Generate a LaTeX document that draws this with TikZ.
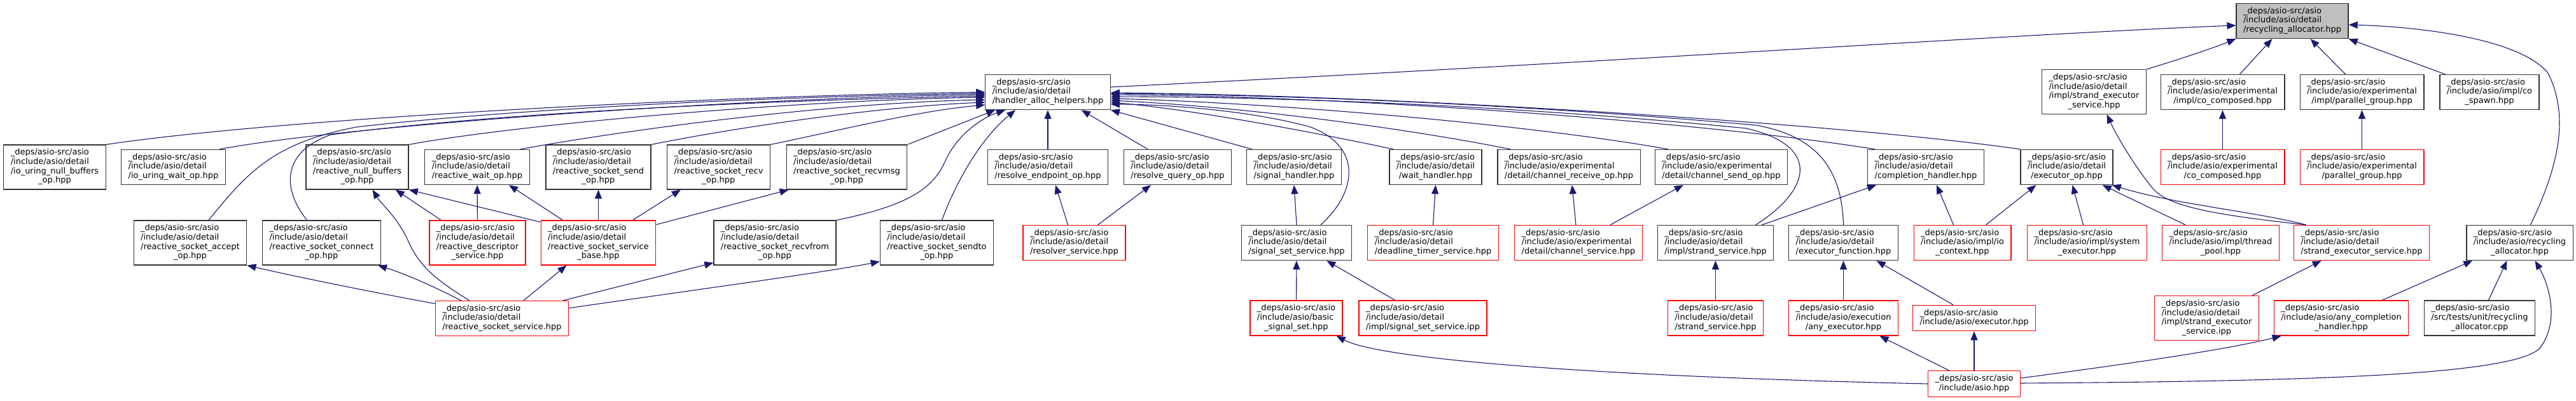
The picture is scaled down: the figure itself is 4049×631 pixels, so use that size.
\documentclass[tikz,border=0pt]{standalone}
\usepackage{fontspec}
\setmainfont{DejaVu Sans}
\usetikzlibrary{arrows.meta,calc}
\definecolor{edgeblue}{HTML}{191970}
\definecolor{boxgray}{HTML}{BFBFBF}
\definecolor{boxred}{HTML}{FF0000}
\definecolor{boxline}{HTML}{333333}
\newcommand{\lbl}[2]{\begin{tabular}{@{}l@{}}#1\\\multicolumn{1}{@{}c@{}}{#2}\end{tabular}}
\newcommand{\depsA}{\_deps/asio-src/asio}
\newcommand{\incdet}{/include/asio/detail}
\newcommand{\incexp}{/include/asio/experimental}
\begin{document}
\begin{tikzpicture}[x=1pt,y=-1pt,
  fnode/.style={rectangle,draw=boxline,fill=white,line width=1.3pt,inner xsep=11pt,inner ysep=5.5pt,font=\fontsize{13}{14.7}\selectfont,anchor=center},
  rnode/.style={fnode,draw=boxred},
  gnode/.style={fnode,fill=boxgray},
  dep/.style={draw=edgeblue,line width=1.1pt,-{Triangle[length=14pt,width=11pt]}}]
\useasboundingbox[fill=white] (0,0) rectangle (4049,631);
% row 0/1
\node[gnode] (root) at (3603,33) {\lbl{\depsA\\\incdet}{/recycling\_allocator.hpp}};
\node[fnode] (hah) at (1647,145) {\lbl{\depsA\\\incdet}{/handler\_alloc\_helpers.hpp}};
\node[fnode] (ises) at (3291.5,144.5) {\lbl{\depsA\\\incdet\\/impl/strand\_executor}{\_service.hpp}};
\node[fnode] (icoc) at (3493.5,145) {\lbl{\depsA\\\incexp}{/impl/co\_composed.hpp}};
\node[fnode] (ipg) at (3712.5,145) {\lbl{\depsA\\\incexp}{/impl/parallel\_group.hpp}};
\node[fnode] (icos) at (3913,145) {\lbl{\depsA\\/include/asio/impl/co}{\_spawn.hpp}};
% row 2
\node[fnode] (iunb) at (86,263) {\lbl{\depsA\\\incdet\\/io\_uring\_null\_buffers}{\_op.hpp}};
\node[fnode] (iuw) at (272.5,263) {\lbl{\depsA\\\incdet}{/io\_uring\_wait\_op.hpp}};
\node[fnode] (rnb) at (561.5,263) {\lbl{\depsA\\\incdet\\/reactive\_null\_buffers}{\_op.hpp}};
\node[fnode] (rwo) at (750,263) {\lbl{\depsA\\\incdet}{/reactive\_wait\_op.hpp}};
\node[fnode] (rsso) at (940.5,263) {\lbl{\depsA\\\incdet\\/reactive\_socket\_send}{\_op.hpp}};
\node[fnode] (rsro) at (1129.5,263) {\lbl{\depsA\\\incdet\\/reactive\_socket\_recv}{\_op.hpp}};
\node[fnode] (rsrm) at (1331,263) {\lbl{\depsA\\\incdet\\/reactive\_socket\_recvmsg}{\_op.hpp}};
\node[fnode] (reo) at (1647,263) {\lbl{\depsA\\\incdet}{/resolve\_endpoint\_op.hpp}};
\node[fnode] (rqo) at (1851,263) {\lbl{\depsA\\\incdet}{/resolve\_query\_op.hpp}};
\node[fnode] (sh) at (2034,263) {\lbl{\depsA\\\incdet}{/signal\_handler.hpp}};
\node[fnode] (wh) at (2256.5,263) {\lbl{\depsA\\\incdet}{/wait\_handler.hpp}};
\node[fnode] (cro) at (2466,263) {\lbl{\depsA\\\incexp}{/detail/channel\_receive\_op.hpp}};
\node[fnode] (cso) at (2705.5,263) {\lbl{\depsA\\\incexp}{/detail/channel\_send\_op.hpp}};
\node[fnode] (ch) at (3027,263) {\lbl{\depsA\\\incdet}{/completion\_handler.hpp}};
\node[fnode] (eo) at (3248.5,263) {\lbl{\depsA\\\incdet}{/executor\_op.hpp}};
\node[rnode] (coc) at (3493.5,263) {\lbl{\depsA\\\incexp}{/co\_composed.hpp}};
\node[rnode] (pg) at (3712.5,263) {\lbl{\depsA\\\incexp}{/parallel\_group.hpp}};
% row 3
\node[fnode] (rsao) at (299,382) {\lbl{\depsA\\\incdet\\/reactive\_socket\_accept}{\_op.hpp}};
\node[fnode] (rsco) at (505.5,382) {\lbl{\depsA\\\incdet\\/reactive\_socket\_connect}{\_op.hpp}};
\node[rnode] (rds) at (750.5,382) {\lbl{\depsA\\\incdet\\/reactive\_descriptor}{\_service.hpp}};
\node[rnode] (rssb) at (940.5,382) {\lbl{\depsA\\\incdet\\/reactive\_socket\_service}{\_base.hpp}};
\node[fnode] (rsrf) at (1218,382) {\lbl{\depsA\\\incdet\\/reactive\_socket\_recvfrom}{\_op.hpp}};
\node[fnode] (rsst) at (1472.5,382) {\lbl{\depsA\\\incdet\\/reactive\_socket\_sendto}{\_op.hpp}};
\node[rnode] (rs) at (1688.5,382) {\lbl{\depsA\\\incdet}{/resolver\_service.hpp}};
\node[fnode] (sss) at (2038,382) {\lbl{\depsA\\\incdet}{/signal\_set\_service.hpp}};
\node[rnode] (dts) at (2252.5,382) {\lbl{\depsA\\\incdet}{/deadline\_timer\_service.hpp}};
\node[rnode] (cs) at (2481,382) {\lbl{\depsA\\\incexp}{/detail/channel\_service.hpp}};
\node[fnode] (iss) at (2696.5,382) {\lbl{\depsA\\\incdet}{/impl/strand\_service.hpp}};
\node[fnode] (ef) at (2897.5,382) {\lbl{\depsA\\\incdet}{/executor\_function.hpp}};
\node[rnode] (ioc) at (3084.5,382) {\lbl{\depsA\\/include/asio/impl/io}{\_context.hpp}};
\node[rnode] (se) at (3280.5,382) {\lbl{\depsA\\/include/asio/impl/system}{\_executor.hpp}};
\node[rnode] (tp) at (3490.5,382) {\lbl{\depsA\\/include/asio/impl/thread}{\_pool.hpp}};
\node[rnode] (ses) at (3712,382) {\lbl{\depsA\\\incdet}{/strand\_executor\_service.hpp}};
\node[fnode] (rah) at (3960.5,382) {\lbl{\depsA\\/include/asio/recycling}{\_allocator.hpp}};
% row 4
\node[rnode] (rss) at (789,501) {\lbl{\depsA\\\incdet}{/reactive\_socket\_service.hpp}};
\node[rnode] (bss) at (2037.5,500.5) {\lbl{\depsA\\/include/asio/basic}{\_signal\_set.hpp}};
\node[rnode] (sssi) at (2236.5,500.5) {\lbl{\depsA\\\incdet}{/impl/signal\_set\_service.ipp}};
\node[rnode] (ss) at (2696.5,500.5) {\lbl{\depsA\\\incdet}{/strand\_service.hpp}};
\node[rnode] (ae) at (2897.5,500.5) {\lbl{\depsA\\/include/asio/execution}{/any\_executor.hpp}};
\node[rnode] (exh) at (3103,500.5) {\lbl{\depsA}{/include/asio/executor.hpp}};
\node[rnode] (sesi) at (3468.5,500.5) {\lbl{\depsA\\\incdet\\/impl/strand\_executor}{\_service.ipp}};
\node[rnode] (ach) at (3680,500.5) {\lbl{\depsA\\/include/asio/any\_completion}{\_handler.hpp}};
\node[fnode] (rac) at (3897.5,500.5) {\lbl{\depsA\\/src/tests/unit/recycling}{\_allocator.cpp}};
% row 5
\node[rnode] (asio) at (3103,604) {\lbl{\depsA}{/include/asio.hpp}};
% ---- edges into handler_alloc_helpers from the left
\draw[dep] (iunb.north east) .. controls (450,185) and (1150,150) .. ($(hah.west)+(0,0)$);
\draw[dep] ($(iuw.north east)+(-10,0)$) .. controls (560,195) and (1200,153) .. ($(hah.west)+(0,4)$);
\draw[dep] (rnb.north east) .. controls (820,195) and (1250,158) .. ($(hah.west)+(0,8)$);
\draw[dep] ($(rwo.north east)+(-15,0)$) .. controls (980,205) and (1300,162) .. ($(hah.west)+(0,12)$);
\draw[dep] (rsso.north east) .. controls (1160,200) and (1380,168) .. ($(hah.west)+(0,16)$);
\draw[dep] (rsro.north east) .. controls (1320,205) and (1440,175) .. ($(hah.west)+(0,20)$);
\draw[dep] (rsrm.north east) -- ($(hah.south west)+(16,0)$);
\draw[dep] ($(rsao.north)+(29,0)$) .. controls (390,270) and (430,225) .. (560,200) .. controls (800,172) and (1200,152) .. ($(hah.west)+(0,2)$);
\draw[dep] ($(rsco.north)+(-23,0)$) .. controls (445,300) and (440,240) .. (520,212) .. controls (800,175) and (1250,157) .. ($(hah.west)+(0,6)$);
\draw[dep] (rsrf.north east) .. controls (1420,325) and (1465,300) .. (1485,255) .. controls (1505,210) and (1545,185) .. ($(hah.south west)+(32,0)$);
\draw[dep] ($(rsst.north)+(8,0)$) .. controls (1505,280) and (1545,215) .. ($(hah.south west)+(48,0)$);
% from below
\draw[dep] (reo) -- (hah);
\draw[dep] ($(rqo.north)+(-47,0)$) -- ($(hah.south east)+(-46,0)$);
\draw[dep] ($(sh.north west)+(9,0)$) -- (hah.south east);
% from the right
\draw[dep] (eo.north west) .. controls (2900,195) and (2200,150) .. ($(hah.east)+(0,1)$);
\draw[dep] ($(ch.north west)+(12,0)$) .. controls (2700,195) and (2150,152) .. ($(hah.east)+(0,4)$);
\draw[dep] (ef.north) .. controls (2895,270) and (2860,215) .. (2760,197) .. controls (2400,165) and (2050,150) .. ($(hah.east)+(0,2)$);
\draw[dep] ($(iss.north)+(63,0)$) .. controls (2845,300) and (2865,230) .. (2745,202) .. controls (2400,168) and (2050,153) .. ($(hah.east)+(0,7)$);
\draw[dep] ($(cso.north west)+(21,0)$) .. controls (2400,195) and (2000,162) .. ($(hah.east)+(0,10)$);
\draw[dep] ($(cro.north west)+(21,0)$) .. controls (2200,200) and (1950,168) .. ($(hah.east)+(0,13)$);
\draw[dep] ($(wh.north west)+(7,0)$) .. controls (2050,205) and (1870,172) .. ($(hah.east)+(0,16)$);
\draw[dep] ($(sss.north)+(38,0)$) .. controls (2135,300) and (2140,230) .. (2060,200) .. controls (1960,172) and (1820,164) .. ($(hah.east)+(0,19)$);
% into the root
\draw[dep] ($(hah.east)+(0,-8)$) .. controls (2500,100) and (3200,52) .. ($(root.west)+(0,7)$);
\draw[dep] (ises.north east) .. controls (3430,92) and (3480,75) .. (root.south west);
\draw[dep] ($(icoc.north)+(27,0)$) -- ($(root.south west)+(57,0)$);
\draw[dep] ($(ipg.north)+(-26,0)$) -- ($(root.south east)+(-60,0)$);
\draw[dep] ($(icos.north west)+(9,0)$) -- (root.south east);
\draw[dep] ($(rah.north)+(17,0)$) .. controls (4020,265) and (4040,185) .. (4005,115) .. controls (3960,60) and (3800,42) .. ($(root.east)+(0,6)$);
% right part
\draw[dep] (coc) -- (icoc);
\draw[dep] (pg) -- (ipg);
\draw[dep] ($(ses.north west)+(20,0)$) .. controls (3480,338) and (3410,325) .. (3385,298) .. controls (3360,268) and (3330,220) .. ($(ises.south)+(20,0)$);
\draw[dep] ($(ses.north west)+(20,0)$) .. controls (3540,332) and (3420,322) .. ($(eo.south east)+(-2,0)$);
\draw[dep] ($(tp.north west)+(37,0)$) -- ($(eo.south east)+(-17,0)$);
\draw[dep] ($(ioc.north)+(37,0)$) -- ($(eo.south west)+(25,0)$);
\draw[dep] ($(se.north)+(-6,0)$) -- ($(eo.south)+(9,0)$);
\draw[dep] ($(ioc.north)+(-14,0)$) -- ($(ch.south)+(17,0)$);
\draw[dep] ($(iss.north east)+(-19,0)$) -- ($(ch.south west)+(14,0)$);
\draw[dep] (ae) -- (ef);
\draw[dep] ($(exh.north)+(-33,0)$) -- ($(ef.south)+(52,0)$);
\draw[dep] ($(asio.north)+(-39,0)$) -- ($(ae.south)+(57,0)$);
\draw[dep] (asio) -- (exh);
\draw[dep] (asio.west) .. controls (2500,592) and (2170,565) .. ($(bss.south east)+(-10,0)$);
\draw[dep] ($(asio.east)+(0,-9)$) .. controls (3350,572) and (3500,550) .. ($(ach.south west)+(12,0)$);
\draw[dep] ($(asio.east)+(0,-1)$) .. controls (3600,600) and (3950,592) .. (3992,548) .. controls (4025,505) and (4005,445) .. ($(rah.south)+(24,0)$);
\draw[dep] ($(ach.north east)+(-42,0)$) -- ($(rah.south west)+(10,0)$);
\draw[dep] ($(rac.north)+(14,0)$) -- ($(rah.south)+(-20,0)$);
\draw[dep] ($(sesi.north east)+(-11,0)$) -- ($(ses.south west)+(44,0)$);
\draw[dep] (ss) -- (iss);
\draw[dep] (dts.north) -- (wh.south);
\draw[dep] ($(cs.north)+(-4,0)$) -- ($(cro.south)+(5,0)$);
\draw[dep] ($(cs.north)+(50,0)$) -- ($(cso.south west)+(45,0)$);
\draw[dep] ($(sssi.north)+(-44,0)$) -- ($(sss.south east)+(-40,0)$);
\draw[dep] (bss) -- (sss);
\draw[dep] (sss.north) -- (sh.south);
\draw[dep] ($(rs.north)+(-10,0)$) -- ($(reo.south)+(12,0)$);
\draw[dep] ($(rs.north)+(37,0)$) -- ($(rqo.south)+(-42,0)$);
% reactive socket group
\draw[dep] ($(rss.north)+(34,0)$) -- ($(rssb.south)+(-50,0)$);
\draw[dep] ($(rss.north east)+(-9,0)$) -- ($(rsrf.south west)+(0,-4)$);
\draw[dep] ($(rss.north east)+(0,12)$) .. controls (1100,455) and (1300,428) .. ($(rsst.south west)+(0,-6)$);
\draw[dep] ($(rss.north west)+(0,5)$) .. controls (560,455) and (450,432) .. (rsao.south east);
\draw[dep] ($(rss.north west)+(41,0)$) .. controls (680,450) and (640,432) .. ($(rsco.south east)+(-5,0)$);
\draw[dep] ($(rss.north west)+(54,0)$) .. controls (685,440) and (660,420) .. (642,380) .. controls (625,342) and (600,322) .. ($(rnb.south)+(24,0)$);
\draw[dep] ($(rssb.north west)+(0,3)$) -- (rnb.south east);
\draw[dep] ($(rssb.north)+(-56,0)$) -- ($(rwo.south)+(50,0)$);
\draw[dep] (rssb) -- (rsso);
\draw[dep] ($(rssb.north east)+(-37,0)$) -- ($(rsro.south west)+(22,0)$);
\draw[dep] ($(rssb.north east)+(0,7)$) -- ($(rsrm.south west)+(4,0)$);
\draw[dep] (rds) -- (rwo);
\draw[dep] ($(rds.north west)+(19,0)$) -- ($(rnb.south east)+(-21,0)$);
\end{tikzpicture}
\end{document}
